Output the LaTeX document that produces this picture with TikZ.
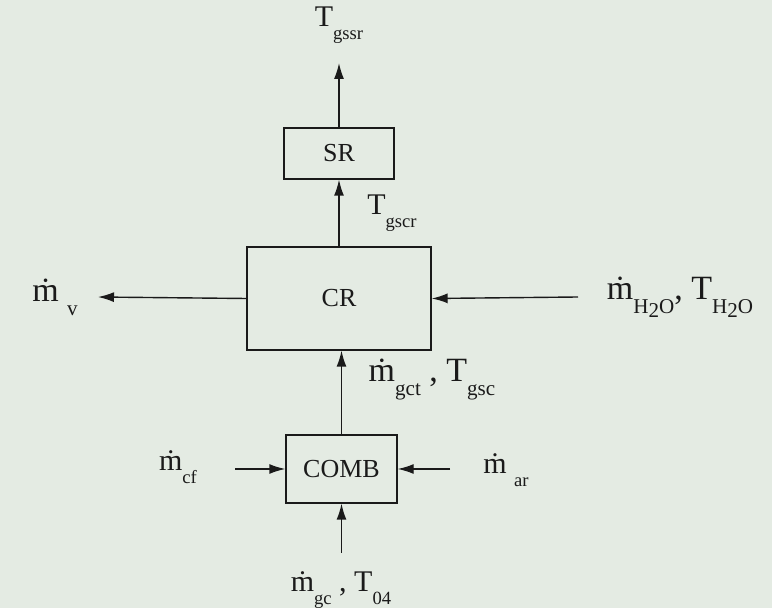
\documentclass[tikz,border=0pt]{standalone}
\usepackage{fontspec}
\setmainfont{Liberation Serif}
\usepackage{graphicx}
\usetikzlibrary{arrows.meta,positioning}
\definecolor{paper}{HTML}{E4EBE3}
\definecolor{ink}{HTML}{1A1A1A}

% dotted m and lowered subscript
\newcommand{\mdt}{\.{m}}
\newcommand{\lo}[1]{\raisebox{-0.9ex}{\scalebox{0.62}{#1}}}

\begin{document}
\begin{tikzpicture}[x=1pt, y=1pt,
    unit/.style={draw=ink, line width=1.4pt, rectangle, inner sep=0pt,
                 font=\fontsize{26}{30}\selectfont, text=ink},
    flow/.style={-{Latex[length=16pt, width=10pt]}, line width=1.4pt, draw=ink},
    lbl/.style={font=\fontsize{30}{34}\selectfont, text=ink, inner sep=0pt},
    big/.style={lbl, font=\fontsize{34}{38}\selectfont}
]

% --- sheet ---
\fill[paper] (0,0) rectangle (772,608);
\useasboundingbox (0,0) rectangle (772,608);

% --- units ---
\node[unit, minimum width=110pt, minimum height=51pt]  (sr)   at (339,454.5) {SR};
\node[unit, minimum width=184pt, minimum height=103pt] (cr)   at (339,309.5) {CR};
\node[unit, minimum width=111pt, minimum height=68pt]  (comb) at (341.5,139) {COMB};

% --- free ends ---
\coordinate (top)   at (339,545);
\coordinate (vout)  at (98,311);
\coordinate (win)   at (578,311);
\coordinate (cfin)  at (235,139);
\coordinate (arin)  at (450,139);
\coordinate (gcin)  at (341.5,55);

% --- labels ---
\node[lbl] (tgssr) at (339,583) {T\lo{gssr}};
\node[lbl] (tgscr) at (392,395) {T\lo{gscr}};
\node[big] (mv)    at (55,311) {\mdt\ \lo{v}};
\node[big] (mw)    at (680,311) {\mdt\lo{H\raisebox{-0.4ex}{2}O}, T\lo{H\raisebox{-0.4ex}{2}O}};
\node[big] (mgct)  at (432,228) {\mdt\lo{gct} , T\lo{gsc}};
\node[lbl] (mcf)   at (178,141) {\mdt\lo{cf}};
\node[lbl] (mar)   at (506,138) {\mdt\ \lo{ar}};
\node[lbl] (mgc)   at (341,18)  {\mdt\lo{gc} , T\lo{04}};

% --- flows ---
\draw[flow] (sr.north) -- (top);
\draw[flow] (cr.north) -- (sr.south);
\draw[flow] (cr.west) -- (vout);
\draw[flow] (win) -- (cr.east);
\draw[flow] (comb.north) -- (comb.north |- cr.south);
\draw[flow] (cfin) -- (comb.west);
\draw[flow] (arin) -- (comb.east);
\draw[flow] (gcin) -- (comb.south);

\end{tikzpicture}
\end{document}
